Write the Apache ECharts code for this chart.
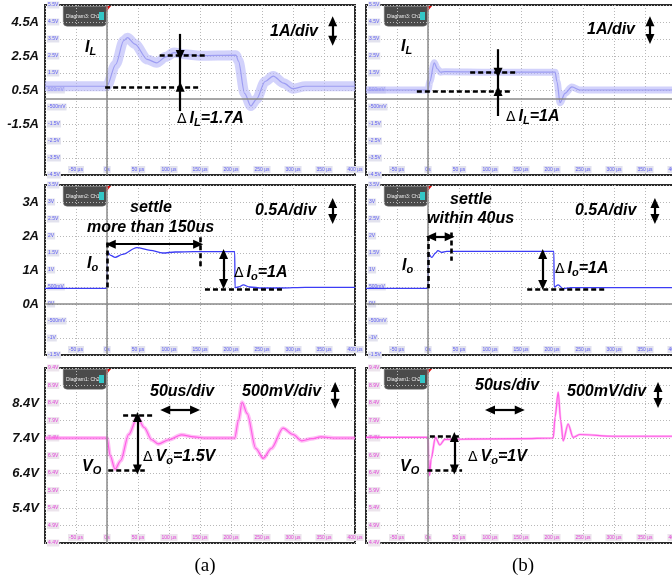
<!DOCTYPE html>
<html>
<head>
<meta charset="utf-8">
<script src="https://cdn.jsdelivr.net/npm/echarts@6/dist/echarts.min.js"></script>
<style>
  html, body { margin: 0; padding: 0; background: #fff; }
  #main { width: 672px; height: 582px; }
</style>
</head>
<body>
<div id="main"></div>
<script>
// time in us, one division = 50us
const timeMin = -100, timeMax = 400, timeStep = 50;

// inductor current I_L [us, A]
const ilA = [[-100,0.72],[-2,0.72],[0,0.75],[14,2.0],[27,3.4],[33,3.58],[45,3.2],[65,2.3],[80,2.1],[95,2.45],[108,2.7],[125,2.6],[150,2.52],[208,2.55],[212,2.2],[222,0.3],[232,-0.44],[241,-0.05],[255,1.0],[268,1.32],[285,0.9],[300,0.58],[320,0.72],[400,0.72]];
const ilB = [[-100,0.5],[0,0.5],[3,1.0],[10,2.1],[15,1.75],[20,1.55],[28,1.58],[100,1.55],[205,1.55],[208,1.0],[213,-0.25],[221,0.3],[232,0.68],[245,0.5],[400,0.5]];

// output current I_o [us, A]
const ioA = [[-100,0.46],[0,0.46],[0.5,1.54],[6,1.43],[13,1.37],[25,1.46],[48,1.66],[70,1.58],[90,1.5],[110,1.53],[140,1.54],[206,1.54],[206.5,0.48],[212,0.5],[220,0.56],[230,0.5],[250,0.47],[280,0.47],[320,0.49],[400,0.49]];
const ioB = [[-100,0.46],[0,0.46],[0.5,1.5],[6,1.37],[12,1.5],[16,1.57],[22,1.52],[30,1.55],[203,1.55],[203.5,0.5],[210,0.56],[218,0.45],[230,0.48],[400,0.48]];

// output voltage V_o [us, V]
const voA = [[-100,7.4],[0,7.4],[5,6.9],[13,6.51],[22,6.75],[35,7.5],[49,7.99],[60,7.7],[72,7.35],[83,7.23],[100,7.35],[120,7.49],[140,7.43],[160,7.4],[206,7.4],[212,7.9],[218,8.42],[226,8.1],[240,7.1],[252,6.82],[265,7.1],[284,7.68],[300,7.5],[314,7.32],[330,7.38],[345,7.43],[370,7.4],[400,7.4]];
const voB = [[-100,7.42],[0,7.42],[1,6.8],[2.5,6.33],[5,6.8],[12,7.42],[19,7.2],[27,7.36],[60,7.37],[150,7.38],[202,7.4],[205,8.0],[210,8.71],[214,7.9],[218,7.32],[226,7.8],[234,7.42],[245,7.5],[300,7.45],[400,7.45]];

// left-hand tick labels
const ilTicks = [4.5, 2.5, 0.5, -1.5];
const ioTicks = [3, 2, 1, 0];
const voTicks = [8.4, 7.4, 6.4, 5.4];

const chart = echarts.init(document.getElementById('main'));
const FONT = '"Liberation Sans", Arial, sans-serif';

const panels = [
  {left: 45,  top: 5,   height: 170, min: -4.5, max: 5.5, step: 1,   data: ilA, kind: 'il', band: 10, ticks: ilTicks, unit: 'A', tag: 'Diagram3: Ch1'},
  {left: 366, top: 5,   height: 170, min: -4.5, max: 5.5, step: 1,   data: ilB, kind: 'il', band: 7,  tag: 'Diagram3: Ch1'},
  {left: 45,  top: 185, height: 170, min: -1.5, max: 3.5, step: 0.5, data: ioA, kind: 'io', ticks: ioTicks, unit: 'A', tag: 'Diagram2: Ch1'},
  {left: 366, top: 185, height: 170, min: -1.5, max: 3.5, step: 0.5, data: ioB, kind: 'io', tag: 'Diagram3: Ch1'},
  {left: 45,  top: 368, height: 175, min: 4.4,  max: 9.4, step: 0.5, data: voA, kind: 'vo', band: 4, ticks: voTicks, unit: 'V', tag: 'Diagram1: Ch2'},
  {left: 366, top: 368, height: 175, min: 4.4,  max: 9.4, step: 0.5, data: voB, kind: 'vo', band: 2.5, tag: 'Diagram1: Ch2'}
];

function scopeY(v, kind) {
  v = Math.round(v * 10) / 10;
  if (kind === 'vo') return v.toFixed(1) + 'V';
  if (Math.abs(v) === 0.5) return (v * 1000) + 'mV';
  return v + 'V';
}

// annotation helpers (data coordinates)
const black = {color: '#000', width: 2.2, type: 'solid'};
const dash = {color: '#000', width: 2.6, type: [5, 3]};
function seg(a, b, style, s0, s1) {
  return [{coord: a, symbol: s0 || 'none', lineStyle: style}, {coord: b, symbol: s1 || 'none'}];
}
function dbl(a, b) { return seg(a, b, black, 'triangle', 'triangle'); }

const notes = [
  [ // a top
    dbl([364, 4.55], [364, 3.4]),
    seg([85, 2.56], [158, 2.56], dash), seg([-3, 0.69], [147, 0.69], dash),
    seg([118, 3.8], [118, 2.56], black, 'none', 'triangle'),
    seg([118, 2.56], [118, 0.69], black),
    seg([118, -0.74], [118, 0.69], black, 'none', 'triangle')
  ],
  [ // b top
    dbl([358, 4.55], [358, 3.5]),
    seg([68, 1.52], [145, 1.52], dash), seg([-18, 0.44], [135, 0.44], dash),
    seg([113, 2.9], [113, 1.52], black, 'none', 'triangle'),
    seg([113, 1.52], [113, 0.44], black),
    seg([113, -1.03], [113, 0.44], black, 'none', 'triangle')
  ],
  [ // a middle
    dbl([364, 2.97], [364, 2.5]),
    seg([0, 1.81], [0, 0.49], dash), seg([150, 1.96], [150, 1.08], dash),
    dbl([6, 1.76], [147, 1.76]),
    dbl([188, 1.47], [188, 0.59]),
    seg([158, 0.42], [284, 0.42], dash)
  ],
  [ // b middle
    dbl([366, 2.97], [366, 2.5]),
    seg([0, 2.0], [0, 0.46], dash), seg([37, 2.1], [37, 1.27], dash),
    dbl([5, 1.98], [35, 1.98]),
    dbl([185, 1.47], [185, 0.56]),
    seg([160, 0.44], [285, 0.44], dash)
  ],
  [ // a bottom
    dbl([368, 8.86], [368, 8.38]),
    dbl([94, 8.2], [142, 8.2]),
    seg([26, 8.04], [73, 8.04], dash), seg([2, 6.47], [61, 6.47], dash),
    dbl([49, 8.0], [49, 6.5])
  ],
  [ // b bottom
    dbl([371, 8.86], [371, 8.4]),
    dbl([100, 8.2], [148, 8.2]),
    seg([3, 7.45], [51, 7.45], dash), seg([-1, 6.47], [55, 6.47], dash),
    dbl([42.5, 7.43], [42.5, 6.5])
  ]
];

const grid = [], xAxis = [], yAxis = [], series = [], graphic = [];

panels.forEach((p, i) => {
  const ch2 = p.kind === 'vo';
  const lblColor = ch2 ? '#e23fd8' : '#5d5df2';
  const lblBg = ch2 ? '#ece4ec' : '#e2e2ee';
  grid.push({left: p.left, top: p.top, width: 310, height: p.height, outerBoundsMode: 'none',
    containLabel: false, show: true, borderColor: '#2a2a2a', borderWidth: 2, backgroundColor: '#fff'});
  xAxis.push({
    gridIndex: i, type: 'value', min: timeMin, max: timeMax, interval: timeStep,
    axisLine: {show: false}, axisTick: {show: false},
    splitLine: {show: true, lineStyle: {color: '#b8b8b8', type: [1, 2], width: 1}},
    axisLabel: {
      inside: true, margin: 2, fontSize: 5, color: lblColor, backgroundColor: lblBg,
      padding: [1, 1], showMinLabel: false,
      formatter: v => v === 0 ? '0s' : v + ' µs'
    }
  });
  yAxis.push({
    gridIndex: i, type: 'value', min: p.min, max: p.max, interval: p.step, position: 'left',
    axisLine: {show: false}, axisTick: {show: false},
    splitLine: {show: true, lineStyle: {color: '#b8b8b8', type: [1, 2], width: 1}},
    axisLabel: {inside: true, margin: 2, fontSize: 5, color: lblColor, backgroundColor: lblBg,
      padding: [1, 1], formatter: v => scopeY(v, p.kind)}
  });
  const yIdxScope = yAxis.length - 1;
  if (p.ticks) {
    yAxis.push({
      gridIndex: i, type: 'value', min: p.min, max: p.max, position: 'left',
      axisLine: {show: false}, axisTick: {show: false}, splitLine: {show: false},
      axisLabel: {customValues: p.ticks, margin: 6, fontSize: 13, fontWeight: 'bold',
        fontStyle: 'italic', color: '#111', fontFamily: FONT,
        formatter: v => (Math.round(v * 10) / 10) + p.unit}
    });
  }
  // scope centre lines
  const centre = [seg([0, p.min], [0, p.max], {color: '#8a8a8a', width: 1.5, type: 'solid'})];
  if (p.min < 0) centre.push(seg([timeMin, 0], [timeMax, 0], {color: '#8a8a8a', width: 1.5, type: 'solid'}));
  series.push({
    type: 'line', xAxisIndex: i, yAxisIndex: yIdxScope, data: [], silent: true,
    markLine: {silent: true, animation: false, symbol: 'none', label: {show: false}, data: centre}
  });
  // waveform: ripple band plus trace
  const col = p.kind === 'vo' ? '#ff5ee6' : (p.kind === 'il' ? '#b4b4f8' : '#3c3cf5');
  if (p.band) {
    series.push({
      type: 'line', xAxisIndex: i, yAxisIndex: yIdxScope, data: p.data, showSymbol: false,
      smooth: 0.3, smoothMonotone: 'x', animation: false,
      lineStyle: {color: col, width: p.band, opacity: ch2 ? 0.4 : 0.6}
    });
  }
  series.push({
    type: 'line', xAxisIndex: i, yAxisIndex: yIdxScope, data: p.data, showSymbol: false,
    smooth: 0.3, smoothMonotone: 'x', animation: false,
    lineStyle: {color: p.kind === 'il' ? '#9090f0' : col, width: p.kind === 'io' ? 1.3 : 1.2,
      opacity: p.kind === 'il' ? 0.8 : 1}
  });
  // annotations
  series.push({
    type: 'line', xAxisIndex: i, yAxisIndex: yIdxScope, data: [], silent: true, z: 5,
    markLine: {silent: true, animation: false, symbolSize: [9, 10], label: {show: false},
      data: notes[i]}
  });
  // oscilloscope tag box
  graphic.push({type: 'rect', left: p.left + 18, top: p.top + 1,
    shape: {width: 43, height: 20, r: [0, 0, 4, 4]}, style: {fill: '#4b4b4b', stroke: '#777', lineWidth: 0.5}});
  graphic.push({type: 'text', left: p.left + 21, top: p.top + 9,
    style: {text: p.tag, fill: '#eee', font: '5px ' + FONT}});
  graphic.push({type: 'rect', left: p.left + 54, top: p.top + 7, shape: {width: 5, height: 8},
    style: {fill: '#33c7c7'}});
  graphic.push({type: 'polygon', shape: {points: [[p.left + 61, p.top + 1], [p.left + 66, p.top + 1], [p.left + 61, p.top + 7]]},
    style: {fill: '#e01010'}});
});

// annotation texts
const rich = {
  b: {font: 'italic bold 16px ' + FONT, fill: '#000', lineHeight: 20},
  d: {font: '14px "DejaVu Sans", sans-serif', fill: '#000', lineHeight: 20, padding: [0, 3, 0, 0]},
  s: {font: 'italic bold 11px ' + FONT, fill: '#000', lineHeight: 20, padding: [8, 0, 0, 0]}
};
function txt(x, y, text, size) {
  graphic.push({type: 'text', x: x, y: y, z: 10,
    style: {text: text, rich: rich, font: 'italic bold ' + (size || 16) + 'px ' + FONT,
      fill: '#000', textVerticalAlign: 'middle'}});
}
txt(85, 48, '{b|I}{s|L}');
txt(270, 32, '1A/div');
txt(177, 119, '{d|Δ}{b|I}{s|L}{b|=1.7A}');
txt(401, 47, '{b|I}{s|L}');
txt(587, 30, '1A/div');
txt(506, 117, '{d|Δ}{b|I}{s|L}{b|=1A}');
txt(130, 208, 'settle');
txt(87, 228, 'more than 150us');
txt(255, 211, '0.5A/div');
txt(87, 264, '{b|I}{s|o}');
txt(234, 273, '{d|Δ}{b|I}{s|o}{b|=1A}');
txt(450, 200, 'settle');
txt(427, 219, 'within 40us');
txt(575, 211, '0.5A/div');
txt(402, 266, '{b|I}{s|o}');
txt(555, 269, '{d|Δ}{b|I}{s|o}{b|=1A}');
txt(150, 392, '50us/div');
txt(242, 392, '500mV/div');
txt(143, 457, '{d|Δ}{b|V}{s|o}{b|=1.5V}');
txt(82, 467, '{b|V}{s|O}');
txt(475, 386, '50us/div');
txt(567, 392, '500mV/div');
txt(468, 457, '{d|Δ}{b|V}{s|o}{b|=1V}');
txt(400, 467, '{b|V}{s|O}');
graphic.push({type: 'text', x: 205, y: 566, style: {text: '(a)', font: '19px "Liberation Serif", serif', fill: '#000', textAlign: 'center', textVerticalAlign: 'middle'}});
graphic.push({type: 'text', x: 523, y: 566, style: {text: '(b)', font: '19px "Liberation Serif", serif', fill: '#000', textAlign: 'center', textVerticalAlign: 'middle'}});

chart.setOption({
  animation: false,
  textStyle: {fontFamily: FONT},
  grid, xAxis, yAxis, series, graphic
});
</script>
</body>
</html>
